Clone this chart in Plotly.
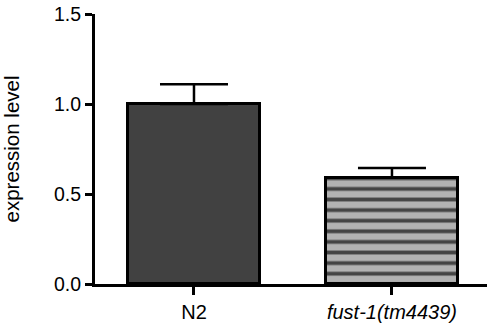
import plotly.graph_objects as go

# Strains and measured expression (mean, upper SEM)
strains = ["N2", "<i>fust-1(tm4439)</i>"]
expression = [1.0, 0.59]
sem_upper = [0.11, 0.055]
y_ticks = [0.0, 0.5, 1.0, 1.5]
y_tick_text = ["0.0", "0.5", "1.0", "1.5"]

fig = go.Figure()

fig.add_trace(go.Bar(
    x=strains,
    y=expression,
    width=0.67,
    marker=dict(
        color=["#414141", "#b2b2b2"],
        line=dict(color="black", width=3),
        pattern=dict(
            shape=["", "-"],
            fgcolor="black",
            fgopacity=1,
            bgcolor="#b2b2b2",
            size=10.6,
            solidity=0.36,
            fillmode="overlay",
        ),
    ),
    error_y=dict(
        type="data",
        symmetric=False,
        array=sem_upper,
        arrayminus=[0, 0],
        color="black",
        thickness=2.5,
        width=34,
    ),
    showlegend=False,
))

fig.update_layout(
    width=487,
    height=324,
    margin=dict(l=95, r=0, t=14, b=40),
    paper_bgcolor="white",
    plot_bgcolor="white",
    font=dict(family="Liberation Sans, Arial, sans-serif", size=20, color="black"),
    bargap=0,
)

fig.update_xaxes(
    range=[-0.5, 1.48],
    showline=True,
    linecolor="black",
    linewidth=3,
    ticks="outside",
    ticklen=8,
    tickwidth=3,
    tickcolor="black",
    showgrid=False,
    zeroline=False,
    tickfont=dict(size=20),
)

fig.update_yaxes(
    range=[0, 1.5],
    tickvals=y_ticks,
    ticktext=y_tick_text,
    showline=True,
    linecolor="black",
    linewidth=3,
    ticks="outside",
    ticklen=7,
    tickwidth=3,
    tickcolor="black",
    showgrid=False,
    zeroline=False,
    tickfont=dict(size=19.5),
    title=dict(text="expression level", font=dict(size=20.5), standoff=30),
)

fig.write_html("out.html")
